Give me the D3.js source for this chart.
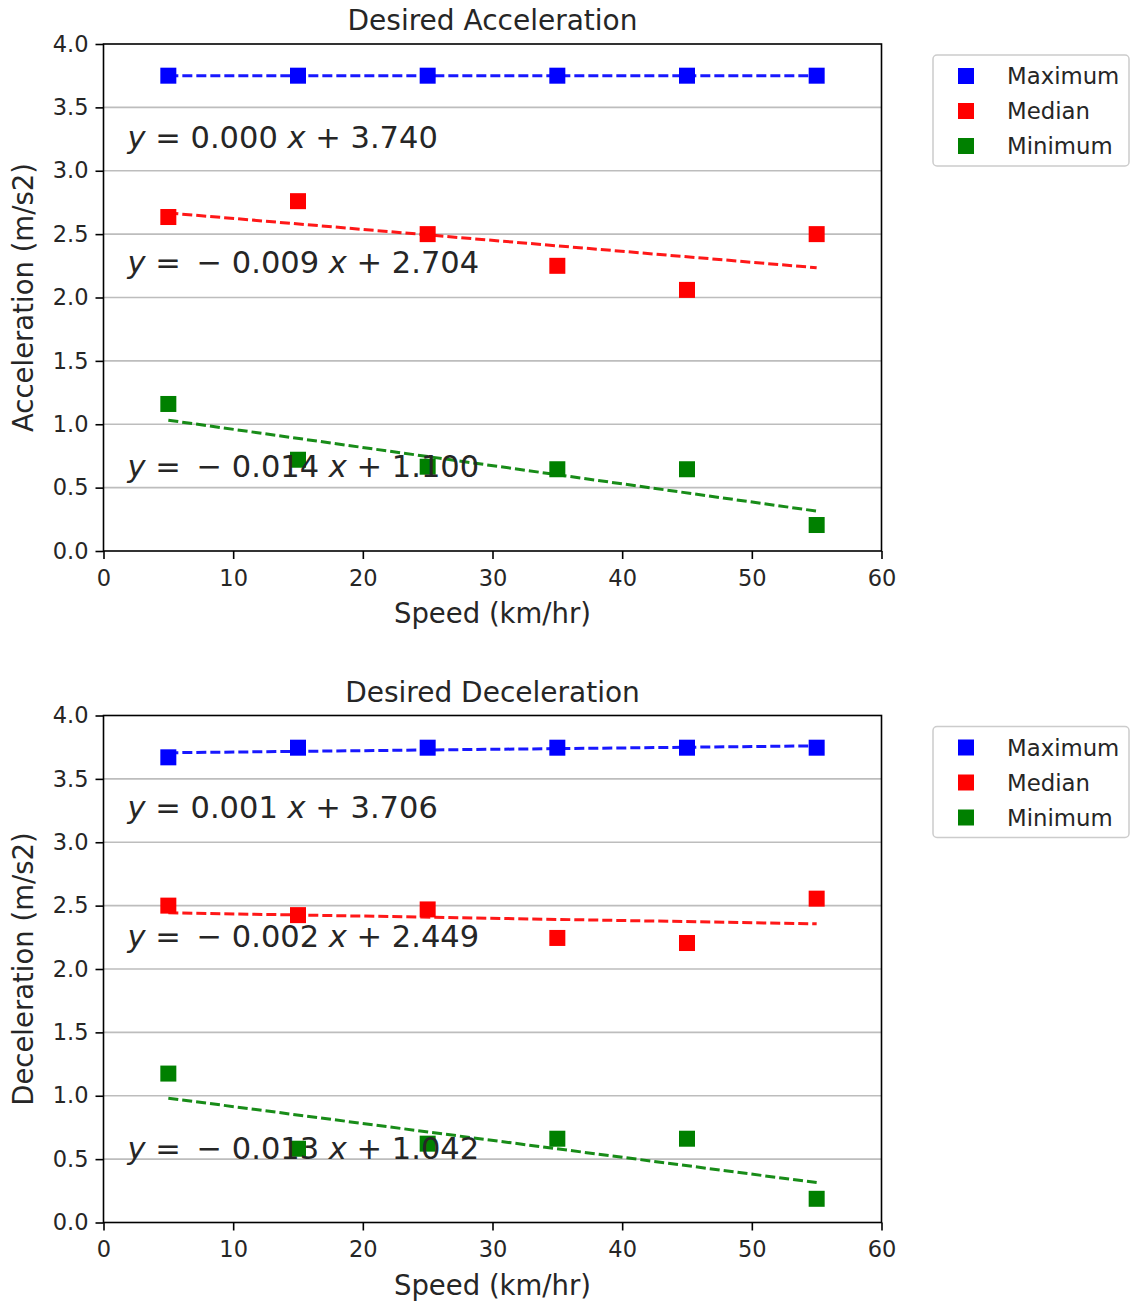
<!DOCTYPE html>
<html>
<head>
<meta charset="utf-8">
<script src="https://cdn.jsdelivr.net/npm/d3@7"></script>
<style>
  body { margin: 0; background: #fff; }
  svg text { font-family: "DejaVu Sans", sans-serif; fill: #262626; }
</style>
</head>
<body>
<svg id="chart" width="1130" height="1303"></svg>
<script>
// speeds (km/hr) where each group was measured
const speeds = [5, 15, 25, 35, 45, 55]

const accMax = [3.75, 3.75, 3.75, 3.75, 3.75, 3.75]
const accMed = [2.635, 2.76, 2.50, 2.25, 2.06, 2.50]
const accMin = [1.16, 0.72, 0.665, 0.645, 0.645, 0.205]

const decMax = [3.67, 3.746, 3.746, 3.746, 3.746, 3.746]
const decMed = [2.50, 2.425, 2.47, 2.245, 2.205, 2.555]
const decMin = [1.175, 0.582, 0.622, 0.661, 0.661, 0.187]

const seriesNames = ['Maximum', 'Median', 'Minimum']
const seriesColors = ['#0000ff', '#ff0000', '#008000']

// fitted equation text, as printed on the chart
const accEq = [['0.000', '3.740'], ['−0.009', '2.704'], ['−0.014', '1.100']]
const decEq = [['0.001', '3.706'], ['−0.002', '2.449'], ['−0.013', '1.042']]
// vertical anchor (data units) of each equation label
const accEqY = [3.18, 2.19, 0.585]
const decEqY = [3.19, 2.17, 0.50]

const xTicks = [0, 10, 20, 30, 40, 50, 60]
const yTicks = [0, 0.5, 1, 1.5, 2, 2.5, 3, 3.5, 4]

const svg = d3.select('#chart')
svg.append('rect').attr('width', 1130).attr('height', 1303).attr('fill', '#fff')

function fit(xs, ys) {
  const mx = d3.mean(xs), my = d3.mean(ys)
  const sxy = d3.sum(xs, (x, i) => (x - mx) * (ys[i] - my))
  const sxx = d3.sum(xs, (x) => (x - mx) * (x - mx))
  const m = sxy / sxx
  return { m: m, b: my - m * mx }
}

function drawPanel(top, title, ylab, series, eqs, eqYs) {
  const left = 103.5, right = 881.5, h = 507
  const x = d3.scaleLinear().domain([0, 60]).range([left, right])
  const y = d3.scaleLinear().domain([0, 4]).range([top + h, top])
  const g = svg.append('g')

  // grid
  g.append('g').selectAll('line')
    .data(yTicks.slice(1, -1))
    .enter()
    .append('line')
    .attr('x1', left).attr('x2', right)
    .attr('y1', (d) => y(d)).attr('y2', (d) => y(d))
    .attr('stroke', '#bdbdbd').attr('stroke-width', 1.6)

  const xAxis = g.append('g')
    .attr('transform', 'translate(0,' + (top + h) + ')')
    .call(d3.axisBottom(x).tickValues(xTicks).tickFormat(d3.format('d')).tickSizeInner(8).tickSizeOuter(0).tickPadding(11))
  const yAxis = g.append('g')
    .attr('transform', 'translate(' + left + ',0)')
    .call(d3.axisLeft(y).tickValues(yTicks).tickFormat(d3.format('.1f')).tickSizeInner(8).tickSizeOuter(0).tickPadding(7))
  ;[xAxis, yAxis].forEach((a) => {
    a.select('.domain').remove()
    a.selectAll('line').attr('stroke', '#000').attr('stroke-width', 1.6)
    a.selectAll('text').attr('font-size', 22.5).attr('fill', '#262626')
      .style('font-family', '"DejaVu Sans", sans-serif')
  })

  series.forEach((ys, i) => {
    const f = fit(speeds, ys)
    const ends = [speeds[0], speeds[speeds.length - 1]]
    g.append('line')
      .attr('x1', x(ends[0])).attr('x2', x(ends[1]))
      .attr('y1', y(f.m * ends[0] + f.b)).attr('y2', y(f.m * ends[1] + f.b))
      .attr('stroke', seriesColors[i]).attr('stroke-width', 3)
      .attr('stroke-dasharray', '10,4')
      .attr('opacity', 0.9)

    g.append('g').selectAll('rect')
      .data(speeds.map((s, j) => [s, ys[j]]))
      .enter()
      .append('rect')
      .attr('x', (d) => x(d[0]) - 8)
      .attr('y', (d) => y(d[1]) - 8)
      .attr('width', 16).attr('height', 16)
      .attr('fill', seriesColors[i])
  })

  // equation labels, written as one string so nothing overlaps
  eqs.forEach((e, i) => {
    const neg = e[0].startsWith('−')
    const t = g.append('text')
      .attr('x', x(1.85)).attr('y', y(eqYs[i]))
      .attr('font-size', 30.5)
      .attr('fill', '#1a1a1a')
      .style('white-space', 'pre')
    t.append('tspan').attr('font-style', 'italic').text('y')
    t.append('tspan').text(neg ? ' = \u2009− ' + e[0].slice(1) : ' = ' + e[0])
    t.append('tspan').attr('font-style', 'italic').text(' x')
    t.append('tspan').text(' + ' + e[1])
  })

  // frame
  g.append('rect')
    .attr('x', left).attr('y', top).attr('width', right - left).attr('height', h)
    .attr('fill', 'none').attr('stroke', '#000').attr('stroke-width', 1.6)

  g.append('text')
    .attr('x', (left + right) / 2).attr('y', top - 14)
    .attr('text-anchor', 'middle').attr('font-size', 28).text(title)
  g.append('text')
    .attr('x', (left + right) / 2).attr('y', top + h + 72)
    .attr('text-anchor', 'middle').attr('font-size', 27.5).text('Speed (km/hr)')
  g.append('text')
    .attr('transform', 'translate(33,' + (top + h / 2) + ') rotate(-90)')
    .attr('text-anchor', 'middle').attr('font-size', 27.5).text(ylab)

  // legend
  const lg = g.append('g').attr('transform', 'translate(933,' + (top + 11) + ')')
  lg.append('rect')
    .attr('width', 196).attr('height', 111).attr('rx', 4)
    .attr('fill', '#fff').attr('stroke', '#cccccc').attr('stroke-width', 1.5)
  seriesNames.forEach((n, i) => {
    lg.append('rect')
      .attr('x', 25).attr('y', 21 + i * 35 - 8)
      .attr('width', 16).attr('height', 16)
      .attr('fill', seriesColors[i])
    lg.append('text')
      .attr('x', 74).attr('y', 21 + i * 35 + 8)
      .attr('font-size', 22.8).text(n)
  })
}

drawPanel(44, 'Desired Acceleration', 'Acceleration (m/s2)', [accMax, accMed, accMin], accEq, accEqY)
drawPanel(715.5, 'Desired Deceleration', 'Deceleration (m/s2)', [decMax, decMed, decMin], decEq, decEqY)
</script>
</body>
</html>
